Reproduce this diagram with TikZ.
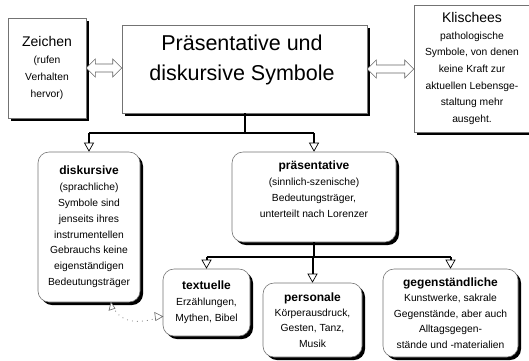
\documentclass[tikz,border=0pt]{standalone}
\usepackage{fontspec}
\setmainfont{Liberation Sans}
\usetikzlibrary{arrows.meta,shadows,calc}

\begin{document}
\begin{tikzpicture}[x=1pt,y=-1pt,
  shadowed/.style={general shadow={shadow xshift=3pt,shadow yshift=-3pt,fill=black,opacity=1}},
  plainbox/.style={draw=black!55,line width=0.6pt,fill=white,inner sep=0pt,align=center,shadowed},
  roundbox/.style={plainbox,rounded corners=11pt},
  small/.style={font=\fontsize{10.3}{15.8}\selectfont},
  conn/.style={line width=2pt,black},
  hollowtip/.style={-{Triangle[width=10pt,length=9pt,fill=white,line width=0.7pt]}},
  dbl/.style={draw=black!60,line width=0.6pt,fill=white},
  dots/.style={draw=black!55,line width=1.1pt,line cap=round,dash pattern=on 0pt off 5pt}
]
\useasboundingbox (0,0) rectangle (529,360);

% top row
\node[plainbox,minimum width=78pt,minimum height=100pt,
      font=\fontsize{10.3}{17}\selectfont] (zei) at (47,68)
  {{\fontsize{14}{17}\selectfont Zeichen}\\(rufen\\Verhalten\\hervor)};
\node[plainbox,minimum width=245pt,minimum height=88pt] (main) at (244.5,69) {};
\node[inner sep=0pt,align=center,font=\fontsize{21.5}{30}\selectfont] (title) at (242,60)
  {Präsentative und\\diskursive Symbole};
\node[plainbox,minimum width=116pt,minimum height=127pt,small,
      font=\fontsize{10.3}{16.6}\selectfont] (kli) at (472,68.5)
  {{\fontsize{14}{17}\selectfont Klischees}\\pathologische\\Symbole, von denen\\keine Kraft zur\\aktuellen Lebensge-\\staltung mehr\\ausgeht.};

% hollow double arrows between the top boxes
\coordinate (a1l) at (zei.east);
\coordinate (a1r) at (main.west |- zei.east);
\draw[dbl] (a1l) -- ++(9,-9) -- ++(0,5) -- ([shift={(-9,-4)}]a1r) -- ++(0,-5) -- (a1r)
  -- ++(-9,9) -- ++(0,-5) -- ([shift={(9,4)}]a1l) -- ++(0,5) -- cycle;
\coordinate (a2l) at (main.east);
\coordinate (a2r) at (kli.west |- main.east);
\draw[dbl] (a2l) -- ++(9,-9) -- ++(0,5) -- ([shift={(-9,-4)}]a2r) -- ++(0,-5) -- (a2r)
  -- ++(-9,9) -- ++(0,-5) -- ([shift={(9,4)}]a2l) -- ++(0,5) -- cycle;

% second row
\node[roundbox,minimum width=102pt,minimum height=150pt,small] (disk) at (89,227)
  {\textbf{\fontsize{12}{15.8}\selectfont diskursive}\\(sprachliche)\\Symbole sind\\jenseits ihres\\instrumentellen\\Gebrauchs keine\\eigenständigen\\Bedeutungsträger};
\node[roundbox,minimum width=164pt,minimum height=90pt] (praes) at (314,197) {};
\node[inner sep=0pt,align=center,small,font=\fontsize{10.3}{16}\selectfont] (praestext) at (314,189)
  {\textbf{\fontsize{12}{16}\selectfont präsentative}\\(sinnlich-szenische)\\Bedeutungsträger,\\unterteilt nach Lorenzer};

% third row
\node[roundbox,minimum width=87pt,minimum height=67pt,small] (text) at (206.5,302.5)
  {\textbf{\fontsize{12}{15.8}\selectfont textuelle}\\Erzählungen,\\Mythen, Bibel};
\node[roundbox,minimum width=99pt,minimum height=74pt,small,
      font=\fontsize{10.3}{15.2}\selectfont] (pers) at (312.5,320)
  {\textbf{\fontsize{12}{15.2}\selectfont personale}\\Körperausdruck,\\Gesten, Tanz,\\Musik};
\node[roundbox,minimum width=135pt,minimum height=88pt,small,
      font=\fontsize{10.3}{15.4}\selectfont] (gegen) at (450.5,313)
  {\textbf{\fontsize{12}{15.4}\selectfont gegenständliche}\\Kunstwerke, sakrale\\Gegenstände, aber auch\\Alltagsgegen-\\stände und -materialien};

% tree connectors
\draw[conn] (main.south) -- ++(0,20) coordinate (j1);
\draw[conn] (j1 -| disk.north) -- (j1 -| praes.north);
\draw[conn,hollowtip] (j1 -| disk.north) -- (disk.north);
\draw[conn,hollowtip] (j1 -| praes.north) -- (praes.north);

\draw[conn] (praes.south) -- ++(0,15) coordinate (j2);
\draw[conn] (j2 -| text.north) -- (j2 -| gegen.north);
\draw[conn,hollowtip] (j2 -| text.north) -- (text.north);
\draw[conn,hollowtip] (j2 -| pers.north) -- (pers.north);
\draw[conn,hollowtip] (j2 -| gegen.north) -- (gegen.north);

% dotted link between diskursive and textuelle
\coordinate (d1) at ([xshift=22pt]disk.south);
\coordinate (d2) at ([yshift=-14pt]text.west);
\draw[dots] (d1) .. controls ($(d1)+(8,22)$) and ($(d2)+(-25,8)$) .. (d2);
\draw[draw=black!60,line width=0.6pt,fill=white] (d1) -- ++(-2,8) -- ++(6,-2) -- cycle;
\draw[draw=black!60,line width=0.6pt,fill=white] (d2) -- ++(-8,-4) -- ++(1,8) -- cycle;
\end{tikzpicture}
\end{document}
